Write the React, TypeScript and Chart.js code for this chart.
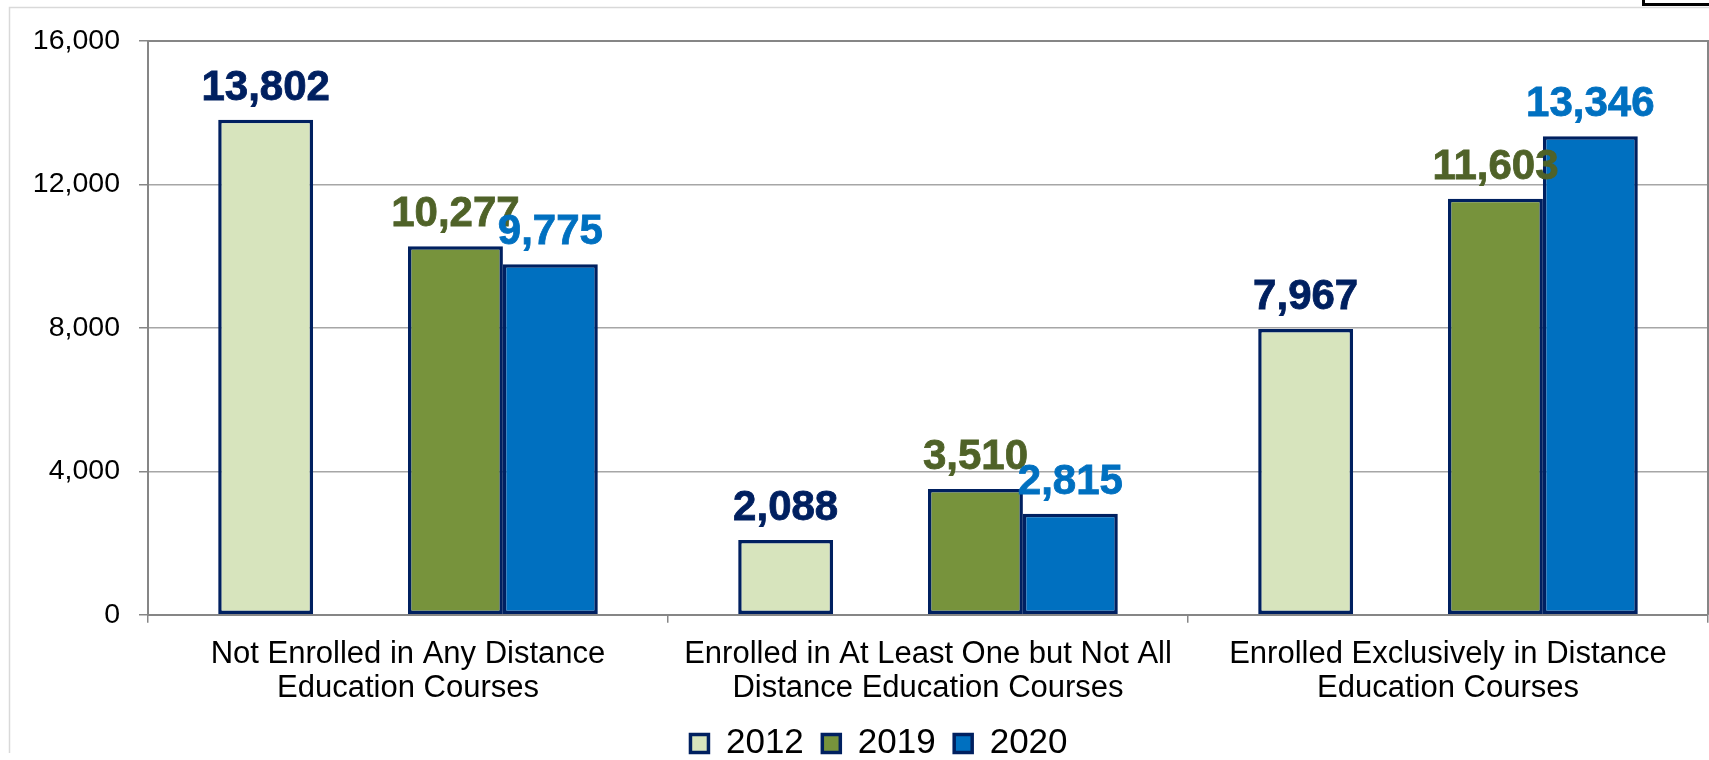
import React, { useEffect, useRef } from 'react';
import { Chart, registerables } from 'chart.js';

Chart.register(...registerables);

const categories: string[][] = [
  ['Not Enrolled in Any Distance', 'Education Courses'],
  ['Enrolled in At Least One but Not All', 'Distance Education Courses'],
  ['Enrolled Exclusively in Distance', 'Education Courses'],
];
const seriesNames = ['2012', '2019', '2020'];
const values2012 = [13802, 2088, 7967];
const values2019 = [10277, 3510, 11603];
const values2020 = [9775, 2815, 13346];
const gapValues: (number | null)[] = [null, null, null];
const yMin = 0;
const yMax = 16000;
const yStep = 4000;

const fillColors = ['#D7E4BD', '#77933C', '#0070C0'];
const labelColors = ['#002060', '#4F6228', '#0070C0'];
const borderNavy = '#002060';
const FONT = "'Liberation Sans', Arial, sans-serif";

const dataLabelPlugin = {
  id: 'dataLabels',
  afterDatasetsDraw(chart: any) {
    const ctx = chart.ctx;
    ctx.save();
    ctx.font = `bold 42px ${FONT}`;
    ctx.textAlign = 'center';
    ctx.textBaseline = 'alphabetic';
    chart.data.datasets.forEach((ds: any, di: number) => {
      if (ds.labelColor == null) return;
      const meta = chart.getDatasetMeta(di);
      meta.data.forEach((bar: any, i: number) => {
        const v = ds.data[i];
        if (v == null) return;
        ctx.fillStyle = ds.labelColor;
        ctx.strokeStyle = ds.labelColor;
        ctx.lineWidth = 0.8;
        const t = v.toLocaleString('en-US');
        ctx.fillText(t, bar.x, bar.y - 20);
        ctx.strokeText(t, bar.x, bar.y - 20);
      });
    });
    ctx.restore();
  },
};

const legendShiftPlugin = {
  id: 'legendShift',
  afterUpdate(chart: any) {
    const lg = chart.legend;
    if (lg && !lg._shifted) {
      const orig = lg.draw.bind(lg);
      lg.draw = (area: any) => {
        chart.ctx.save();
        chart.ctx.translate(9, 0);
        orig(area);
        chart.ctx.restore();
      };
      lg._shifted = true;
    }
  },
};

const framePlugin = {
  id: 'frame',
  beforeDatasetsDraw(chart: any) {
    const { ctx, chartArea } = chart;
    ctx.save();
    ctx.strokeStyle = '#868686';
    ctx.lineWidth = 2;
    ctx.beginPath();
    ctx.moveTo(chartArea.left, chartArea.top);
    ctx.lineTo(chartArea.right, chartArea.top);
    ctx.lineTo(chartArea.right, chartArea.bottom);
    ctx.stroke();
    ctx.restore();
  },
  afterDraw(chart: any) {
    const { ctx } = chart;
    ctx.save();
    ctx.strokeStyle = '#d9d9d9';
    ctx.lineWidth = 1.5;
    ctx.beginPath();
    ctx.moveTo(9.5, 753);
    ctx.lineTo(9.5, 7.5);
    ctx.lineTo(1709, 7.5);
    ctx.stroke();
    ctx.strokeStyle = '#000000';
    ctx.lineWidth = 3;
    ctx.strokeRect(1643.5, -10, 100, 14.5);
    ctx.restore();
  },
};

export default function App() {
  const canvasRef = useRef<HTMLCanvasElement | null>(null);

  useEffect(() => {
    const canvas = canvasRef.current;
    if (!canvas) return;
    Chart.defaults.font.family = FONT;
    Chart.defaults.color = '#000000';

    const chart = new Chart(canvas, {
      type: 'bar',
      data: {
        labels: categories,
        datasets: [
          {
            label: seriesNames[0],
            data: values2012,
            backgroundColor: fillColors[0],
            borderColor: borderNavy,
            borderWidth: 3.5,
            borderSkipped: false,
            labelColor: labelColors[0],
          } as any,
          {
            label: '',
            data: gapValues,
            backgroundColor: 'rgba(0,0,0,0)',
            borderWidth: 0,
          } as any,
          {
            label: seriesNames[1],
            data: values2019,
            backgroundColor: fillColors[1],
            borderColor: borderNavy,
            borderWidth: 3.5,
            borderSkipped: false,
            labelColor: labelColors[1],
          } as any,
          {
            label: seriesNames[2],
            data: values2020,
            backgroundColor: fillColors[2],
            borderColor: borderNavy,
            borderWidth: 3.5,
            borderSkipped: false,
            labelColor: labelColors[2],
          } as any,
        ],
      },
      options: {
        responsive: false,
        animation: false,
        devicePixelRatio: 1,
        layout: { padding: { left: 32, right: 1, top: 41, bottom: -11 } },
        datasets: {
          bar: { categoryPercentage: 0.73, barPercentage: 1 },
        },
        plugins: {
          legend: {
            position: 'bottom',
            labels: {
              font: { size: 35, family: FONT },
              color: '#000000',
              boxWidth: 18,
              boxHeight: 18,
              padding: 18.5,
              filter: (item: any) => item.text !== '',
            },
          },
          tooltip: { enabled: false },
        },
        scales: {
          x: {
            afterFit: (scale: any) => {
              scale.height = scale.height - 12.5;
            },
            grid: {
              display: true,
              offset: true,
              drawOnChartArea: false,
              drawTicks: true,
              tickLength: 8,
              color: '#868686',
              lineWidth: 1.5,
            },
            border: { display: true, color: '#868686', width: 2 },
            ticks: {
              font: { size: 31, family: FONT, lineHeight: 1.1 },
              color: '#000000',
              padding: 14.5,
              maxRotation: 0,
              autoSkip: false,
            },
          },
          y: {
            min: yMin,
            max: yMax,
            afterFit: (scale: any) => {
              scale.width = 116;
            },
            grid: {
              color: '#a6a6a6',
              lineWidth: 1.5,
              drawTicks: true,
              tickLength: 9,
              tickColor: '#868686',
            },
            border: { display: true, color: '#868686', width: 2 },
            ticks: {
              stepSize: yStep,
              font: { size: 28.5, family: FONT },
              color: '#000000',
              padding: 19,
              callback: (v: any) => Number(v).toLocaleString('en-US'),
            },
          },
        },
      },
      plugins: [legendShiftPlugin, framePlugin, dataLabelPlugin],
    } as any);
    chart.draw();

    return () => chart.destroy();
  }, []);

  return (
    <div style={{ position: 'absolute', left: 0, top: 0, width: 1709, height: 760, overflow: 'hidden', background: '#ffffff' }}>
      <canvas ref={canvasRef} width={1709} height={760} style={{ width: 1709, height: 760, display: 'block' }} />
    </div>
  );
}
